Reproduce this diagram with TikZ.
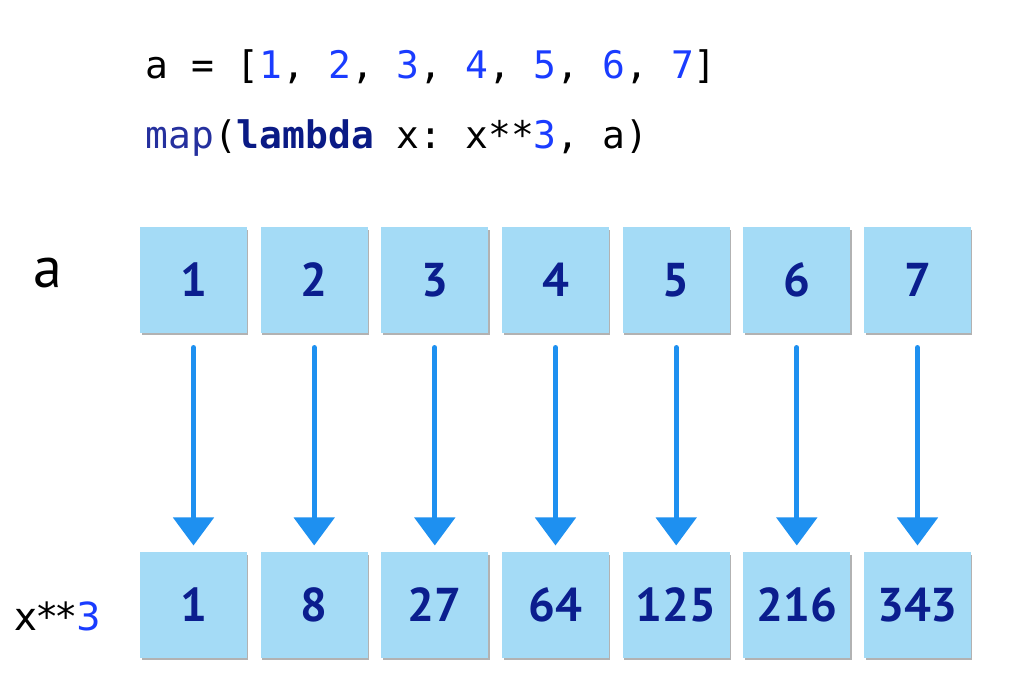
\documentclass[tikz,border=0pt]{standalone}
\usepackage{fontspec}
\setsansfont{PT Sans}
\setmonofont{DejaVu Sans Mono}
\newfontfamily\labelfont{DejaVu Sans}
\usepackage{tikz}
\usetikzlibrary{arrows.meta,positioning,shadows}
\definecolor{cellfill}{HTML}{A4DBF6}
\definecolor{celltext}{HTML}{0B1E8E}
\definecolor{arrowblue}{HTML}{1E90F0}
\definecolor{numblue}{HTML}{1A3CFF}
\definecolor{mapblue}{HTML}{25309E}
\definecolor{kwblue}{HTML}{0A1A85}
\newcommand{\nb}[1]{\textcolor{numblue}{#1}}

\begin{document}
\begin{tikzpicture}[x=0.02cm, y=-0.02cm, semithick,
     cell/.style={fill=cellfill, text=celltext, minimum width=2.14cm, minimum height=2.12cm,
       inner sep=0pt, font=\sffamily\bfseries\fontsize{27pt}{30pt}\selectfont,
       drop shadow={shadow xshift=0.03cm, shadow yshift=-0.05cm, fill=black, opacity=0.3}},
     maparrow/.style={draw=arrowblue, line width=0.1cm, line cap=round,
       -{Triangle[width=0.8cm,length=0.56cm]}, shorten <=0.28cm, shorten >=0.12cm},
     code/.style={anchor=base west, inner sep=0pt, font=\ttfamily\fontsize{21.6pt}{26pt}\selectfont}]
    \useasboundingbox (0,0) rectangle (1012,694);
    % code lines
    \node[code] (line1) at (145, 78) {a = [\nb{1}, \nb{2}, \nb{3}, \nb{4}, \nb{5}, \nb{6}, \nb{7}]};
    \node[code] (line2) at (145, 148) {\textcolor{mapblue}{map}(\textcolor{kwblue}{\textbf{lambda}} x: x**\nb{3}, a)};
    % row labels
    \node[anchor=base, inner sep=0pt, font=\sffamily\fontsize{33pt}{36pt}\selectfont] (la) at (48, 287) {a};
    \node[anchor=base west, inner sep=0pt, font=\labelfont\fontsize{22pt}{25pt}\selectfont] (lx) at (14, 630) {x**\nb{3}};
    % input cells
    \node[cell] (a1) at (193.5, 280) {1};
    \node[cell] (a2) at (314.2, 280) {2};
    \node[cell] (a3) at (434.8, 280) {3};
    \node[cell] (a4) at (555.5, 280) {4};
    \node[cell] (a5) at (676.2, 280) {5};
    \node[cell] (a6) at (796.8, 280) {6};
    \node[cell] (a7) at (917.5, 280) {7};
    % output cells
    \node[cell] (b1) at (193.5, 605) {1};
    \node[cell] (b2) at (314.2, 605) {8};
    \node[cell] (b3) at (434.8, 605) {27};
    \node[cell] (b4) at (555.5, 605) {64};
    \node[cell] (b5) at (676.2, 605) {125};
    \node[cell] (b6) at (796.8, 605) {216};
    \node[cell] (b7) at (917.5, 605) {343};
    \path (a1) edge[maparrow] (b1);
    \path (a2) edge[maparrow] (b2);
    \path (a3) edge[maparrow] (b3);
    \path (a4) edge[maparrow] (b4);
    \path (a5) edge[maparrow] (b5);
    \path (a6) edge[maparrow] (b6);
    \path (a7) edge[maparrow] (b7);
\end{tikzpicture}
\end{document}
